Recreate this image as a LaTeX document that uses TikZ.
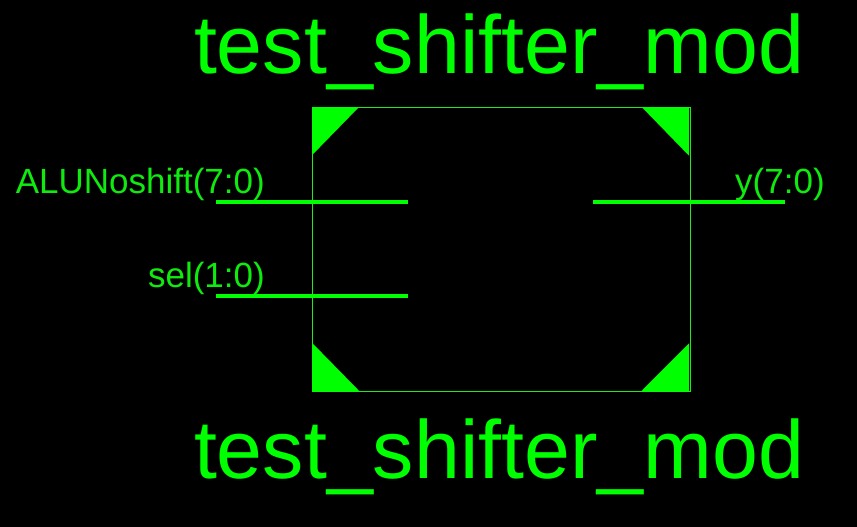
\documentclass[tikz,border=0pt]{standalone}
\usepackage{fontspec}
\setmainfont{Liberation Sans}
\definecolor{sym}{RGB}{0,255,0}
\definecolor{pintext}{RGB}{15,235,15}
\definecolor{framecol}{RGB}{30,235,30}
\tikzset{
  title/.style={text=sym,font=\fontsize{82.5}{82.5}\selectfont,inner sep=0,anchor=base},
  pin/.style={text=pintext,font=\fontsize{35}{38}\selectfont,inner sep=0,anchor=base},
  wire/.style={draw=sym,line width=4pt},
  corner/.style={fill=sym,draw=none},
  frame/.style={draw=framecol,line width=1.2pt}
}
\begin{document}
\begin{tikzpicture}[x=1pt,y=-1pt]
\useasboundingbox[fill=black] (0,0) rectangle (857,527);
\node[title] (t1) at (499,74) {test\_shifter\_mod};
\node[title] (t2) at (499,478) {test\_shifter\_mod};
\coordinate (tl) at (312.7,107.5);
\coordinate (tr) at (690.4,107.5);
\coordinate (br) at (690.4,391.4);
\coordinate (bl) at (312.7,391.4);
\draw[frame] (tl) -- (tr) -- (br) -- (bl) -- cycle;
\fill[corner] (312.2,107) -- (359,107) -- (312.2,155) -- cycle;
\fill[corner] (689,107) -- (641.7,107) -- (689,155.7) -- cycle;
\fill[corner] (312.2,391.8) -- (360,391.8) -- (312.2,343) -- cycle;
\fill[corner] (689,391.8) -- (640.7,391.8) -- (689,343.3) -- cycle;
\coordinate (a1) at (216,202);
\coordinate (a2) at (408,202);
\coordinate (b1) at (216,296);
\coordinate (b2) at (408,296);
\coordinate (c1) at (593,202);
\coordinate (c2) at (785,202);
\draw[wire] (a1) -- (a2);
\draw[wire] (b1) -- (b2);
\draw[wire] (c1) -- (c2);
\node[pin,anchor=base east] (p1) at (265,193.5) {ALUNoshift(7:0)};
\node[pin,anchor=base east] (p2) at (265,287.5) {sel(1:0)};
\node[pin,anchor=base west] (p3) at (735,193.5) {y(7:0)};
\end{tikzpicture}
\end{document}
